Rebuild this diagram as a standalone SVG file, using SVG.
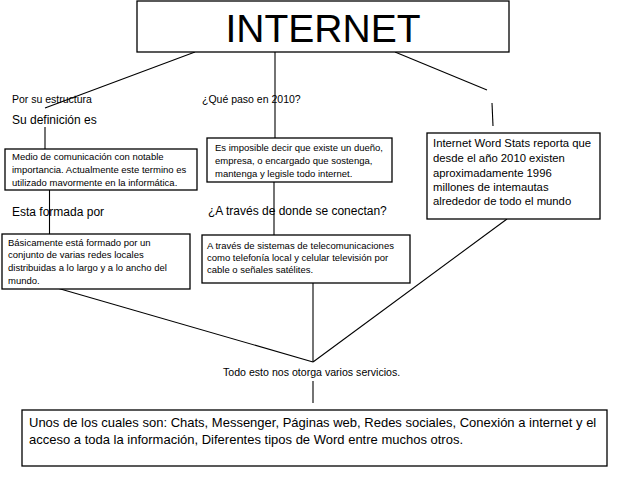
<svg xmlns="http://www.w3.org/2000/svg" width="638" height="493" viewBox="0 0 638 493">
<style>
.box{fill:#fff;stroke:#000;stroke-width:1.3}
.ln{stroke:#000;stroke-width:1.1;fill:none}
text{font-family:"Liberation Sans",Arial,sans-serif;fill:#000}
.s{font-size:9.5px}
.m{font-size:10.5px}
.l{font-size:12px}
.b{font-size:13px}
</style>
<rect width="638" height="493" fill="#fff"/>
<g id="connectors">
<line class="ln" x1="195" y1="52" x2="45" y2="108"/>
<line class="ln" x1="275" y1="52" x2="275" y2="138"/>
<line class="ln" x1="395" y1="52" x2="487" y2="90"/>
<line class="ln" x1="492" y1="103" x2="493" y2="126"/>
<line class="ln" x1="45" y1="127" x2="45" y2="149"/>
<line class="ln" x1="49.5" y1="190" x2="49.5" y2="234"/>
<line class="ln" x1="274" y1="182" x2="274" y2="235"/>
<line class="ln" x1="313" y1="283" x2="313" y2="362"/>
<line class="ln" x1="57" y1="288" x2="313" y2="362"/>
<line class="ln" x1="507" y1="219" x2="313" y2="362"/>
<line class="ln" x1="313" y1="381" x2="313" y2="403"/>
</g>
<g id="internet">
<rect class="box" x="137" y="1" width="372" height="51"/>
<text x="323" y="42" font-size="39" text-anchor="middle">INTERNET</text>
</g>
<g id="por-su-estructura"><text class="m" x="12" y="103">Por su estructura</text></g>
<g id="que-paso"><text class="m" x="202" y="103">¿Qué paso en 2010?</text></g>
<g id="su-definicion"><text class="l" x="12" y="124">Su definición es</text></g>
<g id="medio">
<rect class="box" x="5" y="149" width="192" height="41"/>
<text class="s" x="12" y="160">Medio de comunicación con notable</text>
<text class="s" x="12" y="173">importancia. Actualmente este termino es</text>
<text class="s" x="12" y="186">utilizado mavormente en la informática.</text>
</g>
<g id="esta-formada"><text class="l" x="12" y="216">Esta formada por</text></g>
<g id="basicamente">
<rect class="box" x="2" y="234" width="188" height="55"/>
<text class="s" x="8" y="246">Básicamente está formado por un</text>
<text class="s" x="8" y="258">conjunto de varias redes locales</text>
<text class="s" x="8" y="271">distribuidas a lo largo y a lo ancho del</text>
<text class="s" x="8" y="284">mundo.</text>
</g>
<g id="es-imposible">
<rect class="box" x="207" y="138" width="185" height="44"/>
<text class="s" x="215" y="151">Es imposible decir que existe un dueño,</text>
<text class="s" x="215" y="164">empresa, o encargado que sostenga,</text>
<text class="s" x="215" y="177">mantenga y legisle todo internet.</text>
</g>
<g id="a-traves-pregunta"><text class="l" x="208" y="215">¿A través de donde se conectan?</text></g>
<g id="a-traves">
<rect class="box" x="202" y="235" width="208" height="48"/>
<text class="s" x="207" y="249">A través de sistemas de telecomunicaciones</text>
<text class="s" x="207" y="261">como telefonía local y celular televisión por</text>
<text class="s" x="207" y="273">cable o señales satélites.</text>
</g>
<g id="internet-word-stats">
<rect class="box" x="427" y="133" width="173" height="86"/>
<text x="433" y="147" font-size="11.3">Internet Word Stats reporta que</text>
<text x="433" y="162" font-size="11.3">desde el año 2010 existen</text>
<text x="433" y="177" font-size="11.3">aproximadamente 1996</text>
<text x="433" y="191" font-size="11.3">millones de intemautas</text>
<text x="433" y="205" font-size="11.3">alrededor de todo el mundo</text>
</g>
<g id="todo-esto"><text x="223" y="376" font-size="10.6">Todo esto nos otorga varios servicios.</text></g>
<g id="unos">
<rect class="box" x="22" y="410" width="585" height="56"/>
<text class="b" x="29" y="427">Unos de los cuales son: Chats, Messenger,  Páginas web, Redes sociales, Conexión a internet y el</text>
<text class="b" x="29" y="444">acceso a toda la información, Diferentes tipos de Word entre muchos otros.</text>
</g>
</svg>
